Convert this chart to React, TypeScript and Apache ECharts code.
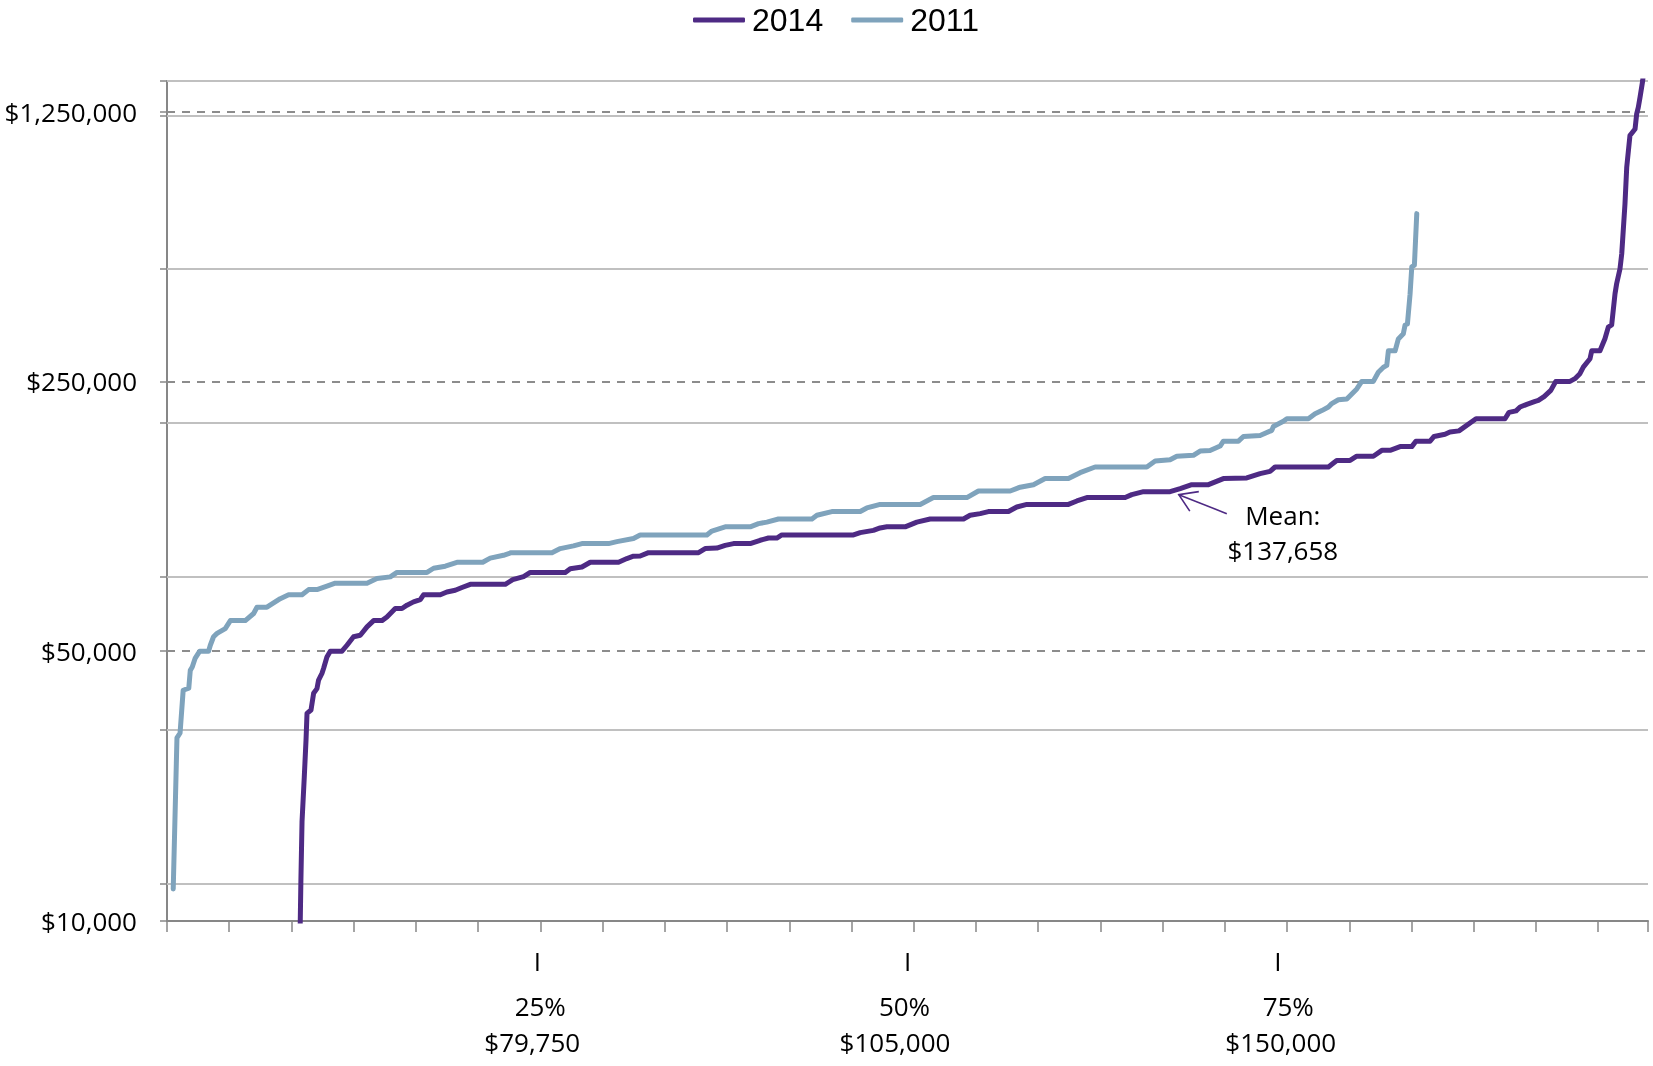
import React, { useEffect, useRef } from "react";
import * as echarts from "echarts";

const SERIES_NAMES = ["2014", "2011"];

// Rank position (respondent index) and salary, 2014 survey
const RANK_2014 = [
  106.6, 107.6, 108.5, 110.3, 111.7, 112.5, 115.7, 117.8, 120.5, 121.8, 124.5, 125.8, 128.5, 131.2, 140.6,
  144.6, 149.9, 155.3, 160.7, 166, 172.7, 176.7, 183.4, 188.8, 192.8, 198.1, 203.5, 206.1, 219.6, 224.9,
  231.6, 237, 243.7, 271.8, 277.8, 286.5, 291.9, 320, 324, 333.4, 340.1, 362.8, 369.5, 374.8, 380.2,
  386.9, 427.1, 432.4, 441.8, 448.5, 455.2, 468.6, 476.6, 483.3, 490, 494, 551.6, 557, 567.6, 573,
  578.4, 593.1, 602.5, 613.2, 640, 645.3, 653.4, 660, 676.1, 682.8, 690.9, 724.3, 731.1, 739.1, 769.9,
  775.2, 784.6, 806, 814.1, 823.4, 836.8, 848.8, 867.6, 878.3, 886.3, 890.3, 933.2, 939.9, 950.6, 956,
  969.3, 976.1, 982.8, 990.8, 1000.2, 1003.5, 1014.9, 1018.1, 1026.9, 1030.9, 1038.1, 1051.8, 1075.1, 1078.3, 1084,
  1087.2, 1092.6, 1099.3, 1101.9, 1106.5, 1111.9, 1115.9, 1127.3, 1131.3, 1135.3, 1138, 1143.4, 1144.8, 1151.4, 1155.4,
  1158.1, 1160.8, 1163.5, 1164.8, 1167.5, 1168.9, 1171.5, 1172.9, 1175.5, 1179.6, 1180.9, 1182.2, 1183.6, 1185.7, 1187,
];
const SALARY_2014 = [
  8000, 12800, 18100, 23600, 29400, 34500, 35200, 38900, 40000, 42100, 43800, 45100, 48300, 50000, 50000,
  51800, 54500, 55000, 57800, 60000, 60000, 61300, 64500, 64500, 65800, 67100, 68000, 70000, 70000, 71200,
  71900, 73100, 74500, 74500, 76600, 78000, 80000, 80000, 81800, 82600, 85000, 85000, 86900, 88100, 88200,
  90000, 90000, 92200, 92500, 94000, 95000, 95000, 96900, 98200, 98200, 100000, 100000, 101400, 102800, 104300,
  105000, 105000, 108000, 110000, 110000, 112500, 113600, 115000, 115000, 118200, 120000, 120000, 122500, 125000, 125000,
  127200, 129500, 129500, 131900, 135000, 135000, 140000, 140500, 144200, 146200, 150000, 150000, 156000, 156000, 160000,
  160000, 165700, 165700, 169400, 169400, 175000, 175000, 180000, 182300, 184800, 186100, 200000, 200000, 207800, 209700,
  214500, 218000, 221900, 223200, 228200, 236900, 250000, 250000, 254100, 261800, 272200, 286200, 300000, 300000, 322400,
  345500, 350000, 421600, 447600, 489300, 535200, 721000, 896600, 1083000, 1127000, 1233000, 1282000, 1361000, 1500000, 1650000,
];

// 2011 survey
const RANK_2011 = [
  5, 8, 10.5, 13, 17.5, 18.7, 20.3, 22.7, 26.3, 33.4, 34.8, 37.4, 40.2, 46.8, 50.9,
  62.9, 69.6, 72.3, 80.3, 91, 97.7, 108.5, 113.8, 120.5, 128.5, 135.2, 160.7, 168.7, 179.4, 184.8,
  208.9, 214.2, 223.6, 233.6, 253.7, 259.7, 270.4, 276.6, 309.3, 316, 326.6, 333.4, 354.8, 361.5, 374.8,
  380.2, 433.8, 437.8, 448.5, 468.6, 475.3, 482, 491.3, 518.2, 522.2, 534.2, 557, 562.3, 573, 605.2,
  615.8, 642.7, 652, 677.5, 685.5, 696.2, 705.6, 724.3, 733.7, 745.7, 787.3, 794, 806, 811.4, 824.7,
  830.1, 838.1, 846.2, 848.8, 860.9, 864.9, 878.3, 887.7, 889, 897, 899.8, 917.1, 922.5, 927.9, 933.2,
  935.9, 941.2, 948, 952, 956, 960, 969.3, 973.3, 977.4, 980.1, 981.4, 986.8, 989.4, 993.4, 994.8,
  996.7, 998.8, 1000.2, 1002.3, 1004.2,
];
const SALARY_2011 = [
  12100, 29800, 30700, 39600, 40100, 44600, 45500, 48000, 50000, 50000, 51800, 54500, 55600, 57200, 60000,
  60000, 62600, 65000, 65000, 68400, 70000, 70000, 72200, 72200, 73700, 75000, 75000, 77100, 77900, 80000,
  80000, 82000, 83000, 85000, 85000, 87100, 88600, 90000, 90000, 92200, 93700, 95000, 95000, 96100, 97900,
  100000, 100000, 102400, 105000, 105000, 107000, 108000, 110000, 110000, 112500, 115000, 115000, 117500, 120000, 120000,
  125000, 125000, 130000, 130000, 133000, 135000, 140000, 140000, 145000, 150000, 150000, 155400, 156700, 160000, 160800,
  165000, 165500, 170000, 175000, 175000, 180000, 181000, 186600, 191000, 197000, 200000, 200000, 206000, 210000, 214500,
  219000, 224000, 225000, 232000, 239000, 250000, 250000, 264000, 272000, 275000, 300000, 300000, 322000, 332000, 350000,
  352000, 420000, 495000, 500000, 680000,
];

// Axis values
const Y_MIN = 10000;
const Y_MAX = 1500000;
const Y_LABEL_VALUES = [10000, 50000, 250000, 1250000];
const Y_DASHED_VALUES = [50000, 250000, 1250000];
const Y_SOLID_VALUES = [12500, 31250, 78125, 195312.5, 488281.25, 1220703.125, 1500000];
const X_MAX_RANK = 1190;
const X_TICK_STEP = 50;

// Percentile annotations
const PCT_RANKS = [297.5, 595, 892.5];
const PCT_LABELS = ["25%", "50%", "75%"];
const PCT_VALUES = ["$79,750", "$105,000", "$150,000"];

// Mean annotation
const MEAN_LABEL = "Mean:";
const MEAN_VALUE = "$137,658";
const MEAN_ARROW_TIP = [813, 127200];

const PURPLE = "#4E2A84";
const BLUE = "#7FA3BC";
const AXIS_GRAY = "#878787";
const FONT = "'Open Sans', 'Noto Sans', sans-serif";
const LEGEND_FONT = "'Liberation Sans', Arial, sans-serif";

function zip(a: number[], b: number[]) {
  return a.map((x, i) => [x, b[i]]);
}

function money(v: number) {
  return "$" + String(Math.round(v)).replace(/\B(?=(\d{3})+(?!\d))/g, ",");
}

export default function App() {
  const ref = useRef<HTMLDivElement>(null);

  useEffect(() => {
    const chart = echarts.init(ref.current!, null, { renderer: "svg" });

    const labelBase = { fontSize: 26, fontFamily: FONT, color: "#000", lineHeight: 36 };
    const pad = [
      [[0, 0, 0, 6], [0, 10, 0, 0]],
      [[0, 6, 0, 0], [0, 25, 0, 0]],
      [[0, 0, 0, 21], [0, 0, 0, 6]],
    ];
    const rich: any = { i: { fontSize: 26, fontFamily: FONT, color: "#000", lineHeight: 54 } };
    pad.forEach((p, k) => {
      rich["p" + k] = { ...labelBase, padding: p[0] };
      rich["v" + k] = { ...labelBase, padding: p[1] };
    });

    const gridLines = [
      ...Y_SOLID_VALUES.map((v) => ({ yAxis: v, lineStyle: { type: "solid", color: "#C0C0C0", width: 2 } })),
      ...Y_DASHED_VALUES.map((v) => ({ yAxis: v, lineStyle: { type: [8, 7], color: "#8C8C8C", width: 2 } })),
    ];

    const option: any = {
      animation: false,
      textStyle: { fontFamily: FONT },
      grid: { left: 167, right: 5, top: 81, bottom: 145, outerBoundsMode: "none" },
      legend: {
        data: SERIES_NAMES,
        left: 693,
        top: 4,
        padding: 0,
        icon: "roundRect",
        itemWidth: 52,
        itemHeight: 5,
        itemGap: 28,
        textStyle: { fontSize: 32, color: "#000", fontFamily: LEGEND_FONT, padding: [0, 0, 0, 2] },
      },
      xAxis: [
        {
          type: "value",
          min: 0,
          max: X_MAX_RANK,
          interval: X_TICK_STEP,
          position: "bottom",
          axisLine: { show: true, onZero: false, lineStyle: { color: AXIS_GRAY, width: 2 } },
          axisTick: { show: true, length: 11, lineStyle: { color: AXIS_GRAY, width: 1.5 } },
          axisLabel: { show: false },
          splitLine: { show: false },
        },
        {
          type: "value",
          min: 0,
          max: X_MAX_RANK,
          position: "bottom",
          axisLine: { show: false },
          axisTick: { show: false },
          splitLine: { show: false },
          axisLabel: {
            show: true,
            customValues: PCT_RANKS,
            margin: 13,
            color: "#000",
            fontSize: 26,
            fontFamily: FONT,
            rich,
            formatter: (value: number) => {
              let k = 0;
              PCT_RANKS.forEach((r, i) => {
                if (Math.abs(r - value) < 1) k = i;
              });
              return `{i|I}\n{p${k}|${PCT_LABELS[k]}}\n{v${k}|${PCT_VALUES[k]}}`;
            },
          },
        },
      ],
      yAxis: {
        type: "log",
        logBase: 10,
        min: Y_MIN,
        max: Y_MAX,
        axisLine: { show: true, lineStyle: { color: AXIS_GRAY, width: 2 } },
        axisTick: {
          show: true,
          length: 7,
          customValues: [...Y_LABEL_VALUES, ...Y_SOLID_VALUES].sort((a, b) => a - b),
          lineStyle: { color: AXIS_GRAY, width: 1.5 },
        },
        axisLabel: {
          show: true,
          customValues: Y_LABEL_VALUES,
          margin: 30,
          fontSize: 26,
          color: "#000",
          fontFamily: FONT,
          formatter: (v: number) => money(v),
        },
        splitLine: { show: false },
      },
      series: [
        {
          name: SERIES_NAMES[0],
          type: "line",
          data: zip(RANK_2014, SALARY_2014),
          symbol: "none",
          showSymbol: false,
          clip: true,
          z: 4,
          color: PURPLE,
          lineStyle: { color: PURPLE, width: 5, cap: "round", join: "round" },
          itemStyle: { color: PURPLE },
        },
        {
          name: SERIES_NAMES[1],
          type: "line",
          data: zip(RANK_2011, SALARY_2011),
          symbol: "none",
          showSymbol: false,
          clip: true,
          z: 3,
          color: BLUE,
          lineStyle: { color: BLUE, width: 5, cap: "round", join: "round" },
          itemStyle: { color: BLUE },
          markLine: {
            silent: true,
            symbol: "none",
            z: 1,
            animation: false,
            label: { show: false },
            emphasis: { disabled: true },
            data: gridLines,
          },
        },
      ],
    };

    chart.setOption(option);

    const tip = chart.convertToPixel({ xAxisIndex: 0, yAxisIndex: 0 }, MEAN_ARROW_TIP) as number[];
    if (tip && isFinite(tip[0]) && isFinite(tip[1])) {
      const tx = tip[0];
      const ty = tip[1];
      chart.setOption({
        graphic: {
          elements: [
            {
              type: "line",
              silent: true,
              z: 20,
              shape: { x1: tx, y1: ty, x2: tx + 48, y2: ty + 19 },
              style: { stroke: PURPLE, lineWidth: 1.6 },
            },
            {
              type: "polyline",
              silent: true,
              z: 20,
              shape: { points: [[tx + 20, ty - 3], [tx, ty], [tx + 11, ty + 16.5]] },
              style: { stroke: PURPLE, fill: "none", lineWidth: 1.6 },
            },
            {
              type: "text",
              silent: true,
              z: 20,
              x: tx + 104,
              y: ty + 20,
              style: { text: MEAN_LABEL, fill: "#000", fontSize: 26, fontFamily: FONT, align: "center", verticalAlign: "middle" },
            },
            {
              type: "text",
              silent: true,
              z: 20,
              x: tx + 104,
              y: ty + 55,
              style: { text: MEAN_VALUE, fill: "#000", fontSize: 26, fontFamily: FONT, align: "center", verticalAlign: "middle" },
            },
          ],
        },
      });
    }

    return () => chart.dispose();
  }, []);

  return <div ref={ref} style={{ position: "fixed", left: 0, top: 0, width: 1653, height: 1066 }} />;
}
